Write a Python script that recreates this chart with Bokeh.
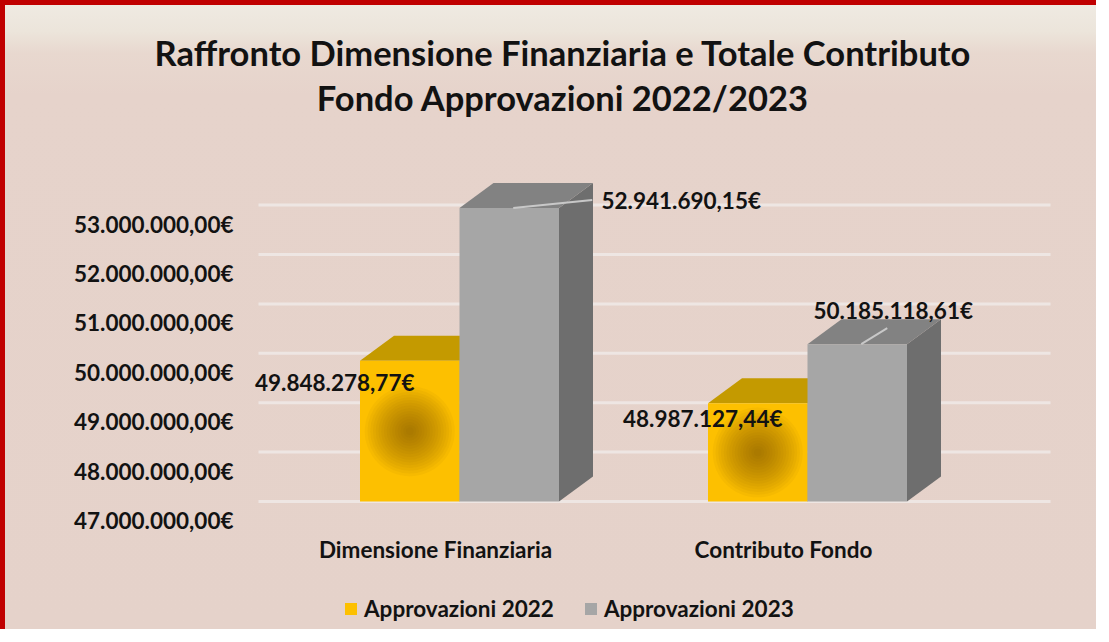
from bokeh.plotting import figure
from bokeh.models import (Range1d, FixedTicker, Legend, LegendItem, Title,
                          ColumnDataSource)
from bokeh.core.properties import value
from bokeh.embed import file_html
from bokeh.resources import INLINE

# ---------------- data ----------------
categories = ["Dimensione Finanziaria", "Contributo Fondo"]
series_names = ["Approvazioni 2022", "Approvazioni 2023"]
approvazioni_2022 = [49848278.77, 48987127.44]
approvazioni_2023 = [52941690.15, 50185118.61]
tick_values = [47000000, 48000000, 49000000, 50000000, 51000000, 52000000, 53000000]
tick_labels = ["47.000.000,00€", "48.000.000,00€", "49.000.000,00€", "50.000.000,00€",
               "51.000.000,00€", "52.000.000,00€", "53.000.000,00€"]
title_lines = ["Raffronto Dimensione Finanziaria e Totale Contributo",
               "Fondo Approvazioni 2022/2023"]
axis_floor = 47000000

# ---------------- layout / style ----------------
BORDER = 5
W, H = 1096, 629
FL, FR, FT, FB = 60, 1055, 114, 629      # frame (figure px)
FW, FH = FR - FL, FB - FT
PX_EUR = 49.4 / 1e6          # px per euro
PX_CAT = 348.0               # px per category step
AX_X0, AX_Y0 = 370, 114      # axis plane: cat 1 / floor position inside frame
BAR_X0, BAR_Y0 = 394, 133    # bar plane (3D depth shift)
YAXIS_PX = 180               # y-axis line, px from frame left
XAXIS_PX = 109               # x-axis line, px above frame bottom
GRID_X = (193, 985)          # grid line extent, px from frame left
BW = 99.5 / PX_CAT
DX = 34 / PX_CAT
DY = 25 / PX_EUR
FONT = "Lato"
TXT = "#121212"

YEL_FRONT, YEL_TOP, YEL_SIDE = "#FDC000", "#C49A00", "#A88200"
GRY_FRONT, GRY_TOP, GRY_SIDE = "#A6A6A6", "#828282", "#6E6E6E"

x_ax0 = 1 - AX_X0 / PX_CAT
y_ax0 = axis_floor - AX_Y0 / PX_EUR
x_b0 = 1 - BAR_X0 / PX_CAT
y_b0 = axis_floor - BAR_Y0 / PX_EUR

p = figure(width=W, height=H, output_backend="svg", toolbar_location=None,
           x_range=Range1d(x_ax0, x_ax0 + FW / PX_CAT),
           y_range=Range1d(y_ax0, y_ax0 + FH / PX_EUR),
           min_border_left=FL, min_border_right=W - FR,
           min_border_top=FT, min_border_bottom=H - FB,
           background_fill_alpha=0, border_fill_alpha=0, outline_line_color=None)
p.styles = {
    "border-left": f"{BORDER}px solid #C00000",
    "border-top": f"{BORDER}px solid #C00000",
    "background": "linear-gradient(to bottom, #EFEAE2 0px, #ECE5DB 26px, #E8D8CF 48px, #E6D3CB 90px, #E5D2CA 100%)",
}
p.extra_x_ranges = {"bars": Range1d(x_b0, x_b0 + FW / PX_CAT)}
p.extra_y_ranges = {"bars": Range1d(y_b0, y_b0 + FH / PX_EUR)}
kw = dict(x_range_name="bars", y_range_name="bars")

p.xgrid.visible = False
p.ygrid.visible = False

# back-wall grid lines (in the bar plane)
gx0 = x_b0 + GRID_X[0] / PX_CAT
gx1 = x_b0 + GRID_X[1] / PX_CAT
p.segment(x0=[gx0] * len(tick_values), y0=tick_values,
          x1=[gx1] * len(tick_values), y1=tick_values,
          line_color="#EEE8E6", line_width=3, line_alpha=0.9, **kw)

# axes (drawn at fixed positions inside the plot area)
ya = p.yaxis[0]
ya.fixed_location = x_ax0 + YAXIS_PX / PX_CAT
ya.ticker = FixedTicker(ticks=tick_values)
ya.major_label_overrides = {v: s for v, s in zip(tick_values, tick_labels)}
ya.axis_line_color = None
ya.major_tick_line_color = None
ya.minor_tick_line_color = None
ya.major_label_standoff = 6
ya.major_label_text_font = FONT
ya.major_label_text_font_style = "bold"
ya.major_label_text_font_size = "22.5px"
ya.major_label_text_color = TXT

xa = p.xaxis[0]
xa.fixed_location = y_ax0 + XAXIS_PX / PX_EUR
xa.ticker = FixedTicker(ticks=[i + 1 for i in range(len(categories))])
xa.major_label_overrides = {i + 1: c for i, c in enumerate(categories)}
xa.axis_line_color = None
xa.major_tick_line_color = None
xa.minor_tick_line_color = None
xa.major_label_standoff = 4
xa.major_label_text_font = FONT
xa.major_label_text_font_style = "bold"
xa.major_label_text_font_size = "22.5px"
xa.major_label_text_color = TXT


def bar_geometry(values, side):
    left, right, xs_top, ys_top, xs_side, ys_side = [], [], [], [], [], []
    for i, v in enumerate(values):
        c = i + 1
        x0 = c - BW if side == 0 else c
        x1 = x0 + BW
        left.append(x0)
        right.append(x1)
        xs_top.append([x0, x1, x1 + DX, x0 + DX])
        ys_top.append([v, v, v + DY, v + DY])
        xs_side.append([x1, x1, x1 + DX, x1 + DX])
        ys_side.append([axis_floor, v, v + DY, axis_floor + DY])
    return left, right, xs_top, ys_top, xs_side, ys_side


fronts = []
for s, (vals, cf, ct, cs) in enumerate([
        (approvazioni_2022, YEL_FRONT, YEL_TOP, YEL_SIDE),
        (approvazioni_2023, GRY_FRONT, GRY_TOP, GRY_SIDE)]):
    left, right, xt, yt, xsd, ysd = bar_geometry(vals, s)
    p.patches(xsd, ysd, fill_color=cs, line_color=None, **kw)
    p.patches(xt, yt, fill_color=ct, line_color=None, **kw)
    fr = p.quad(left=left, right=right, bottom=[axis_floor] * len(vals), top=vals,
                fill_color=cf, line_color=None, **kw)
    fronts.append(fr)
    if s == 0:
        # radial darkening in the centre of the gold faces
        cx = [(a + b) / 2 for a, b in zip(left, right)]
        cy = [(axis_floor + v) / 2 for v in vals]
        for k in range(16):
            size = 90 - k * 5.5
            p.scatter(cx, cy, size=size, marker="circle", fill_color="#6E4C00",
                      fill_alpha=0.05, line_color=None, **kw)

# leader lines for the grey bar labels
lead_px = [((4, 0), (83, 8)), ((4, 0), (30, 16))]
lx0, ly0, lx1, ly1 = [], [], [], []
for i, v in enumerate(approvazioni_2023):
    c = i + 1 + BW / 2
    (a, b), (cc, d) = lead_px[i]
    lx0.append(c + a / PX_CAT); ly0.append(v + b / PX_EUR)
    lx1.append(c + cc / PX_CAT); ly1.append(v + d / PX_EUR)
p.segment(lx0, ly0, lx1, ly1, line_color="#C8C8C8", line_width=2, **kw)


def it_fmt(v):
    s = f"{v:,.2f}"
    return s.replace(",", "X").replace(".", ",").replace("X", ".") + "€"


# data labels
lab_x, lab_y, lab_t, lab_dx, lab_dy = [], [], [], [], []
label_offsets = [[(-75, 22), (-55, 15)], [(172, -7), (36, -34)]]
for s, vals in enumerate([approvazioni_2022, approvazioni_2023]):
    for i, v in enumerate(vals):
        c = i + 1 + (-BW / 2 if s == 0 else BW / 2)
        lab_x.append(c)
        lab_y.append(v)
        lab_t.append(it_fmt(v))
        lab_dx.append(label_offsets[s][i][0])
        lab_dy.append(label_offsets[s][i][1])
src = ColumnDataSource(dict(x=lab_x, y=lab_y, t=lab_t, dx=lab_dx, dy=lab_dy))
p.text(x="x", y="y", text="t", x_offset="dx", y_offset="dy", source=src,
       text_align="center", text_baseline="middle", text_font=value(FONT),
       text_font_style="bold", text_font_size="22.5px", text_color=TXT, **kw)

# legend
legend = Legend(items=[LegendItem(label=series_names[0], renderers=[fronts[0]]),
                       LegendItem(label=series_names[1], renderers=[fronts[1]])],
                orientation="horizontal", location=(278, 12),
                glyph_width=15, glyph_height=15, label_standoff=6, spacing=29,
                padding=0, margin=0, border_line_color=None, background_fill_alpha=0,
                label_text_font=FONT, label_text_font_style="bold",
                label_text_font_size="22.5px", label_text_color=TXT)
p.add_layout(legend)

# two-line title, centred on the plot area
tstyle = dict(text_font=FONT, text_font_style="bold", text_font_size="34.5px",
              text_color=TXT, align="center")
p.title.text = title_lines[0]
p.title.standoff = 0
for k, v in tstyle.items():
    setattr(p.title, k, v)
p.add_layout(Title(text=title_lines[1], standoff=4, **tstyle), "above")

open("out.html", "w").write(file_html(p, INLINE))
